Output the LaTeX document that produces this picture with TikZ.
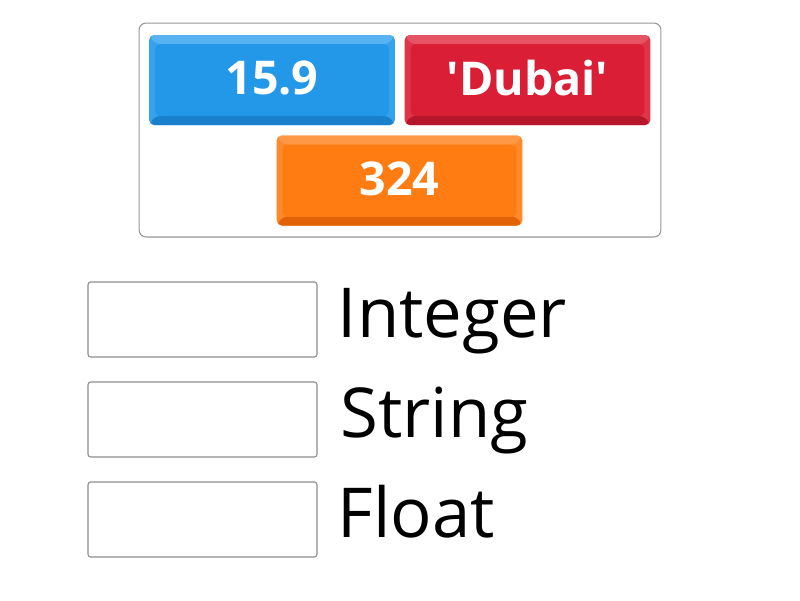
\documentclass[tikz,border=0pt]{standalone}
\usepackage{fontspec}
\setmainfont{Open Sans}
\usepackage{tikz}
\usetikzlibrary{positioning}

\definecolor{blueMain}{RGB}{36,152,232}
\definecolor{blueLight}{RGB}{86,178,240}
\definecolor{blueSide}{RGB}{52,162,236}
\definecolor{blueDark}{RGB}{24,128,205}
\definecolor{redMain}{RGB}{218,30,54}
\definecolor{redLight}{RGB}{230,84,100}
\definecolor{redSide}{RGB}{224,52,72}
\definecolor{redDark}{RGB}{182,22,42}
\definecolor{orangeMain}{RGB}{255,124,18}
\definecolor{orangeLight}{RGB}{255,152,70}
\definecolor{orangeSide}{RGB}{255,136,40}
\definecolor{orangeDark}{RGB}{226,98,8}
\definecolor{frameGray}{RGB}{150,150,150}
\definecolor{boxGray}{RGB}{140,140,140}

\begin{document}
\begin{tikzpicture}[x=0.02cm, y=-0.02cm]
      \useasboundingbox (0,0) rectangle (800,600);
      \tikzstyle{TileStyle} = [rounded corners=3pt, inner sep=0pt,
        minimum width=4.92cm, minimum height=1.8cm, text=white,
        font=\fontsize{26.5}{30}\selectfont\bfseries]
      \tikzstyle{SlotStyle} = [draw=boxGray, line width=0.6pt, rounded corners=1.5pt,
        minimum width=4.58cm, minimum height=1.5cm, inner sep=0pt]
      \tikzstyle{WordStyle} = [anchor=base west, inner sep=0pt,
        font=\fontsize{39.2}{42}\selectfont]
      \tikzset{bevel/.style n args={4}{fill=#3, path picture={
        \fill[#2] (path picture bounding box.north west)
          -- (path picture bounding box.north east)
          -- ([xshift=-0.12cm, yshift=-0.18cm]path picture bounding box.north east)
          -- ([xshift=0.12cm, yshift=-0.18cm]path picture bounding box.north west) -- cycle;
        \fill[#4] (path picture bounding box.south west)
          -- (path picture bounding box.south east)
          -- ([xshift=-0.12cm, yshift=0.18cm]path picture bounding box.south east)
          -- ([xshift=0.12cm, yshift=0.18cm]path picture bounding box.south west) -- cycle;
        \fill[#1] ([xshift=0.12cm, yshift=-0.18cm]path picture bounding box.north west)
          rectangle ([xshift=-0.12cm, yshift=0.18cm]path picture bounding box.south east);
      }}}

      % tray with the answers
      \node[draw=frameGray, line width=0.6pt, rounded corners=4pt,
        minimum width=10.44cm, minimum height=4.28cm] (tray) at (400,130) {};
      \node[TileStyle, bevel={blueMain}{blueLight}{blueSide}{blueDark}] (float) at (272,80)
        {\raisebox{0.08cm}{15.9}};
      \node[TileStyle, bevel={redMain}{redLight}{redSide}{redDark}] (str) at (527.5,80)
        {\raisebox{0.08cm}{\textquotesingle Dubai\textquotesingle}};
      \node[TileStyle, bevel={orangeMain}{orangeLight}{orangeSide}{orangeDark}] (int) at (399.5,180.5)
        {\raisebox{0.06cm}{324}};

      % slots
      \node[SlotStyle] (slotInt) at (202.5,319.5) {};
      \node[SlotStyle] (slotStr) at (202.5,419.5) {};
      \node[SlotStyle] (slotFloat) at (202.5,519.5) {};
      \node[WordStyle] (lblInt) at ([xshift=0.4cm, yshift=-0.35cm]slotInt.east) {Integer};
      \node[WordStyle] (lblStr) at ([xshift=0.45cm, yshift=-0.35cm]slotStr.east) {String};
      \node[WordStyle] (lblFloat) at ([xshift=0.4cm, yshift=-0.35cm]slotFloat.east) {Float};
\end{tikzpicture}
\end{document}
